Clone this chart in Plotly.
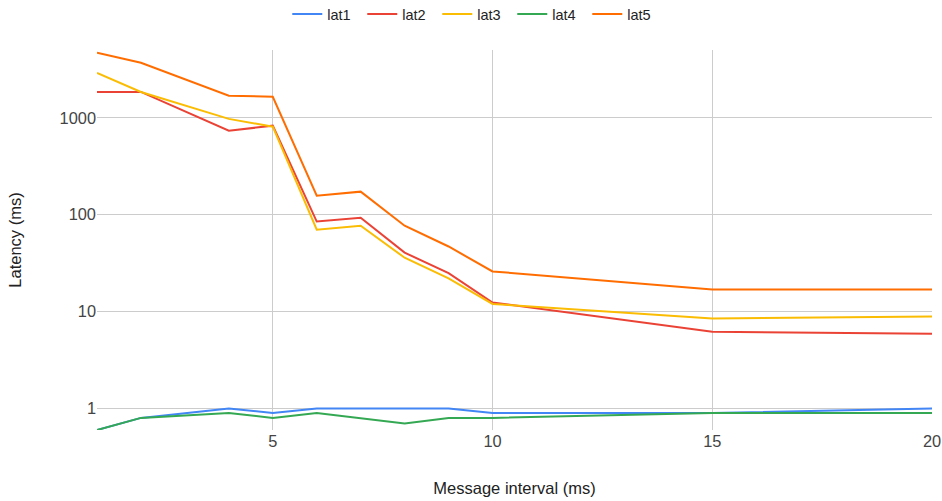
import math
import plotly.graph_objects as go

x_vals = [1, 2, 4, 5, 6, 7, 8, 9, 10, 15, 20]
lat1 = [0.6, 0.8, 1.0, 0.9, 1.0, 1.0, 1.0, 1.0, 0.9, 0.9, 1.0]
lat2 = [1850, 1850, 735, 830, 85, 93, 40.6, 25, 12.4, 6.2, 5.9]
lat3 = [2900, 1850, 975, 810, 70, 77, 36, 22, 12, 8.5, 8.9]
lat4 = [0.6, 0.8, 0.9, 0.8, 0.9, 0.8, 0.7, 0.8, 0.8, 0.9, 0.9]
lat5 = [4700, 3700, 1690, 1650, 157, 173, 77, 47, 26, 16.9, 16.9]

series = [("lat1", lat1, "#4285F4"), ("lat2", lat2, "#EA4335"),
          ("lat3", lat3, "#FBBC04"), ("lat4", lat4, "#34A853"),
          ("lat5", lat5, "#FF6D01")]

fig = go.Figure()
for name, vals, color in series:
    fig.add_trace(go.Scatter(x=x_vals, y=vals, mode="lines", name=name,
                             line=dict(color=color, width=2)))

FONT = "Liberation Sans, Arial, sans-serif"
fig.update_layout(
    width=942, height=501,
    margin=dict(l=97, r=10, t=50, b=70.5, autoexpand=False),
    paper_bgcolor="white", plot_bgcolor="white",
    font=dict(family=FONT, size=15, color="#222"),
    legend=dict(orientation="h", x=0.504, xanchor="center", y=0.972, yanchor="middle",
                yref="container", xref="container", font=dict(size=14.5, color="#222"),
                itemwidth=30, entrywidth=30, entrywidthmode="pixels"),
    showlegend=True,
)

fig.update_xaxes(range=[1, 20], tickvals=[5, 10, 15, 20], showgrid=True,
                 gridcolor="#CCCCCC", gridwidth=1, zeroline=False, showline=False,
                 ticks="", tickfont=dict(size=16.4, color="#444"), automargin=False,
                 title=dict(text="Message interval (ms)", font=dict(size=16.5, color="#222"), standoff=33))
fig.update_yaxes(type="log", range=[math.log10(0.6), 3.7], tickvals=[1, 10, 100, 1000],
                 ticktext=["1", "10", "100", "1000"], showgrid=True,
                 gridcolor="#CCCCCC", gridwidth=1, zeroline=False, showline=False,
                 ticks="", tickfont=dict(size=16.4, color="#444"), automargin=False,
                 title=dict(text="Latency (ms)", font=dict(size=16.5, color="#222"), standoff=33))

# remove the browser's default 8px page margin so the figure fills the window
fig.write_html("out.html", config={"displayModeBar": False},
               post_script="document.body.style.margin='0';document.body.style.overflow='hidden';")
